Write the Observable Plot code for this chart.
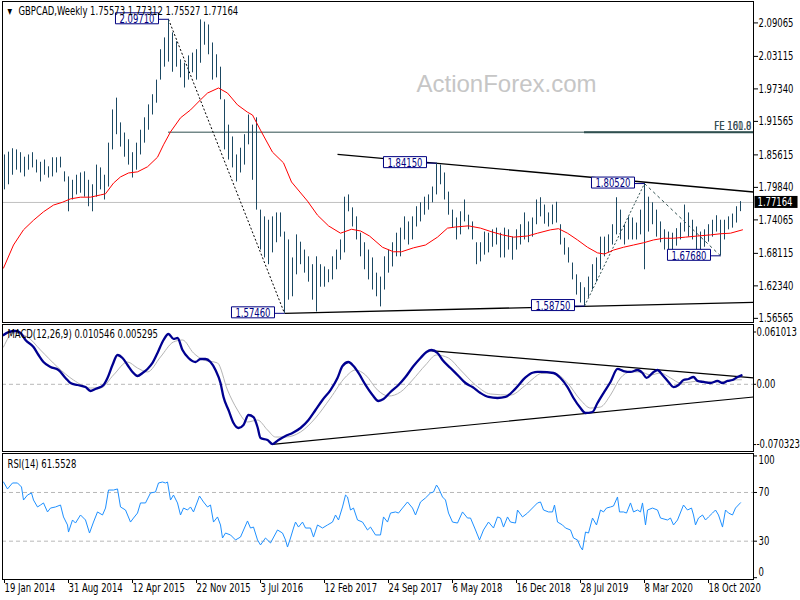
<!DOCTYPE html>
<html><head><meta charset="utf-8">
<script src="https://cdn.jsdelivr.net/npm/d3@7"></script>
<script src="https://cdn.jsdelivr.net/npm/@observablehq/plot@0.6"></script>
<style>
body{margin:0;background:#fff;}
#wrap{position:relative;width:800px;height:600px;background:#fff;overflow:hidden;}
#wrap svg{position:absolute;left:0;}
</style></head><body><div id="wrap"></div>
<script>
const FONT = '"Liberation Sans Narrow","DejaVu Sans Condensed","Liberation Sans",Arial,sans-serif';

// ---------- price panel data (bars every 2 weeks, week index from 19 Jan 2014) ----------
const barHigh = [
1.856,1.861,1.867,1.865,1.860,1.852,1.856,1.860,1.847,1.843,
1.847,1.835,1.851,1.851,1.852,1.826,1.817,1.811,1.820,1.824,
1.826,1.811,1.803,1.838,1.833,1.820,1.877,1.936,1.957,1.913,
1.895,1.883,1.860,1.877,1.900,1.922,1.945,1.963,1.989,2.043,
2.064,2.0971,2.073,2.057,2.025,2.019,2.032,2.037,2.043,2.096,
2.092,2.087,2.055,2.034,2.012,1.954,1.909,1.888,1.856,1.868,
1.892,1.927,1.909,1.922,1.758,1.746,1.740,1.746,1.753,1.753,
1.719,1.705,1.673,1.714,1.701,1.687,1.675,1.661,1.675,1.661,
1.657,1.652,1.675,1.687,1.705,1.781,1.785,1.762,1.746,1.717,
1.700,1.687,1.673,1.646,1.639,1.675,1.687,1.700,1.717,1.726,
1.746,1.737,1.746,1.764,1.771,1.781,1.785,1.799,1.8415,1.838,
1.824,1.790,1.758,1.744,1.755,1.776,1.749,1.737,1.700,1.700,
1.719,1.717,1.723,1.726,1.717,1.726,1.723,1.710,1.723,1.732,
1.753,1.737,1.744,1.776,1.780,1.767,1.753,1.767,1.772,1.732,
1.708,1.691,1.664,1.643,1.629,1.620,1.639,1.661,1.673,1.710,
1.710,1.714,1.732,1.780,1.758,1.732,1.746,1.744,1.735,1.758,
1.8052,1.781,1.771,1.758,1.737,1.723,1.719,1.717,1.725,1.735,
1.767,1.753,1.740,1.728,1.719,1.723,1.732,1.740,1.748,1.740,
1.740,1.746,1.751,1.764,1.77312];
const barLow = [
1.794,1.803,1.820,1.829,1.824,1.817,1.829,1.833,1.824,1.808,
1.820,1.815,1.817,1.824,1.833,1.808,1.755,1.776,1.785,1.788,
1.781,1.764,1.755,1.781,1.794,1.776,1.799,1.865,1.892,1.870,
1.852,1.838,1.815,1.829,1.856,1.877,1.900,1.927,1.948,1.989,
2.012,2.021,2.003,2.012,1.993,1.975,1.989,2.002,1.989,2.019,
2.051,2.034,1.989,1.993,1.954,1.865,1.847,1.833,1.808,1.824,
1.838,1.874,1.811,1.758,1.687,1.673,1.661,1.682,1.700,1.710,
1.5746,1.598,1.604,1.643,1.661,1.646,1.630,1.598,1.577,1.621,
1.621,1.629,1.634,1.652,1.669,1.682,1.755,1.728,1.705,1.675,
1.652,1.634,1.616,1.604,1.586,1.616,1.646,1.657,1.675,1.675,
1.705,1.696,1.705,1.728,1.737,1.749,1.758,1.771,1.785,1.803,
1.776,1.749,1.726,1.705,1.714,1.737,1.723,1.705,1.661,1.666,
1.678,1.682,1.692,1.696,1.673,1.673,1.687,1.669,1.687,1.696,
1.705,1.700,1.710,1.732,1.746,1.733,1.728,1.732,1.735,1.696,
1.678,1.664,1.634,1.607,1.593,1.5875,1.602,1.616,1.630,1.652,
1.675,1.682,1.696,1.714,1.705,1.696,1.705,1.705,1.705,1.714,
1.652,1.719,1.732,1.710,1.700,1.687,1.687,1.684,1.694,1.705,
1.719,1.710,1.705,1.687,1.684,1.692,1.701,1.710,1.719,1.6768,
1.705,1.723,1.726,1.735,1.75527];

const maWeek = [-0.5,4.5,9.5,14.5,19.5,24.5,29,33,38,43,48,50.5,54.5,58,62,66.5,71.5,76.5,79.5,83,88,93,98,101.5,107,111.5,116.5,121.5,124,128,134,139.5,143.5,151.5,156.5,162,168,173.5,178,182.5,189,194.5,198.5,204.5,210.5,216.5,221.5,225.5,232,238,244,249,254.5,261.5,266.5,273,277,281.5,286.5,291.5,296.5,300,304.5,309.5,314.5,319.5,324.5,329.5,334.5,340.5,346.5,353,358,363,369];
const maValue = [1.655,1.696,1.723,1.740,1.755,1.767,1.772,1.778,1.781,1.781,1.785,1.787,1.806,1.817,1.824,1.826,1.835,1.852,1.874,1.897,1.922,1.936,1.954,1.966,1.975,1.966,1.945,1.932,1.927,1.900,1.861,1.842,1.808,1.774,1.749,1.730,1.717,1.724,1.721,1.712,1.692,1.684,1.684,1.691,1.696,1.710,1.726,1.728,1.730,1.726,1.719,1.714,1.710,1.712,1.717,1.723,1.725,1.717,1.705,1.692,1.682,1.680,1.687,1.692,1.696,1.700,1.705,1.708,1.708,1.710,1.712,1.714,1.716,1.717,1.723];

const priceTicks = [2.09065,2.03115,1.97340,1.91565,1.85615,1.79840,1.74065,1.68115,1.62340,1.56565];
const swingWeek = [82,216,140,320,290,358];
const swingPrice = [2.0971,1.8415,1.5746,1.8052,1.5875,1.6768];
const trendW1 = [166.5,140], trendP1 = [1.8572,1.5746], trendW2 = [374.5,374.5], trendP2 = [1.7902,1.5942];
const fePrice = 1.8965, feStartWeek = [82,290], feText = ["FE 100.0","FE 161.8"];
const headerText = "GBPCAD,Weekly 1.75573 1.77312 1.75527 1.77164";
const lastClose = 1.77164;
const watermark = "ActionForex.com";

// ---------- MACD ----------
const macdWeek = [-0.5,2,5.5,8,10.5,14.5,17,19.5,23,27,30.5,33,36.5,40.5,43,45.5,48,49.5,51.5,54,56.5,59,61.5,64,66.5,69,71.5,74,76.5,79.5,82,84.5,86.5,89,92,95.5,98,100.5,103,105.5,108,109.5,112,114.5,117,119.5,122,124.5,126.5,128,131.5,134,137,140.5,144,148,152,155.5,159,163,166.5,169,172,174.5,177,180.5,184,187,189.5,193,197,200.5,204.5,208,211,213.5,216.5,219,223,227,230.5,234,238,242,246.5,250.5,255.5,260.5,264,266.5,268,274.5,278,281.5,284.5,288,290.5,294,296.5,299.5,303,306.5,309.5,313,316.5,319,321,324,326.5,329,332,334.5,337,339.5,342,344.5,346.5,349.5,353,356.5,359,361.5,364,366.5,368.5];
const macdMain = [0.0575,0.061,0.0622,0.0599,0.0517,0.0435,0.0342,0.026,0.0202,0.0167,0.0074,0.0015,-0.0008,-0.0032,-0.0078,-0.0055,-0.0032,-0.0008,0.0074,0.0225,0.0342,0.0307,0.0225,0.0144,0.0097,0.0132,0.0179,0.0249,0.0365,0.0517,0.0587,0.0529,0.054,0.04,0.0307,0.026,0.0295,0.0295,0.026,0.0167,0.0015,-0.0148,-0.03,-0.0452,-0.051,-0.0475,-0.0358,-0.0382,-0.0498,-0.0627,-0.065,-0.0697,-0.065,-0.0603,-0.0568,-0.051,-0.0417,-0.03,-0.0183,-0.0067,0.0074,0.0213,0.026,0.0213,0.0132,-0.0008,-0.0125,-0.0195,-0.0172,-0.009,-0.0008,0.0085,0.0213,0.0307,0.0377,0.04,0.0365,0.0284,0.019,0.0097,0.0015,-0.0032,-0.0102,-0.0148,-0.016,-0.0148,-0.005,0.008,0.0135,0.0144,0.0144,0.0132,0.0074,-0.0032,-0.016,-0.0277,-0.0335,-0.0323,-0.0218,-0.0102,0.0027,0.0179,0.0155,0.0144,0.0167,0.0132,0.0074,0.0132,0.0167,0.0109,0.0027,-0.0032,-0.0008,0.005,0.0062,0.0085,0.0039,0.0027,0.0015,0.0039,0.0015,0.0039,0.005,0.0085,0.0105];
const sigWeek = [-0.5,4.5,11.5,18,26.5,34.5,43,48,54.5,61.5,66.5,71.5,78,84.5,89,94.5,99.5,106.5,111.5,116.5,121.5,126.5,131.5,135.5,140.5,148,155.5,163,170.5,175.5,180.5,186.5,192,198,204,210.5,216,222,228,235.5,243,253,260,265,268,274.5,281.5,288,293,298,303,308,313,318,323,328,333,338,343,348,353,358,363,368.5];
const sigValue = [0.0435,0.0599,0.0552,0.04,0.0202,0.005,-0.0043,-0.0043,0.0109,0.026,0.019,0.0144,0.0319,0.0494,0.0517,0.0365,0.0284,0.0249,-0.0067,-0.03,-0.044,-0.0417,-0.0533,-0.0615,-0.0615,-0.0557,-0.0393,-0.016,0.0085,0.0167,0.0109,-0.0067,-0.0137,-0.009,0.005,0.0225,0.0342,0.0307,0.0167,-0.0008,-0.0113,-0.0125,-0.002,0.008,0.0125,0.0132,0.0015,-0.0183,-0.0277,-0.0265,-0.0125,0.0074,0.0144,0.0144,0.0109,0.0132,0.0074,0.0015,0.0027,0.0039,0.0027,0.0027,0.005,0.0053];
const macdTrendW1 = [213,134], macdTrendV1 = [0.0394,-0.0702], macdTrendW2 = [374.5,374.5], macdTrendV2 = [0.0074,-0.0148];
const macdTicks = [0.061013, 0, -0.070323];
const macdTickLabels = ["0.061013", "0.00", "-0.070323"];
const macdTitle = "MACD(12,26,9) 0.010546 0.005295";

// ---------- RSI ----------
const rsiWeek = [-0.5,1.5,4,6.5,8.5,9.5,11.5,13.5,14.5,16.5,18,19.5,21.5,23,25.5,28,29.5,31.5,32,34,35.5,38,40.5,42.5,44.5,46.5,49,50.5,52,54.5,56.5,58,60.5,63,64.5,66.5,68,70.5,73,75.5,77,79,80.5,81.5,83,84.5,86.5,88,89.5,91.5,93,94.5,97.5,99.5,101.5,103,104.5,106.5,108,109,110.5,113,115.5,118,121.5,123,124.5,126.5,128,130.5,133,136.5,139,140.5,141.5,143,144.5,145.5,147,149,150.5,153,154.5,156.5,159,161.5,164,165.5,167,169,170.5,171.5,173,174.5,176.5,179,181.5,183,185.5,188,189.5,191.5,193,195.5,197,199,201.5,204,205.5,208,210.5,213,214.5,216,217,219,220.5,222,224,226.5,229,231.5,233,235.5,237.5,239.5,242,244.5,246.5,248,249.5,251.5,253,255.5,256.5,259,261.5,263,264.5,266.5,268,269.5,272,274,275,276.5,279,280.5,283,284.5,286.5,288,289,290.5,292,294,296,298,299.5,301,303,304.5,306.5,307.5,309.5,311,313,314.5,316.5,318,319,320.5,321.5,324,326.5,328,331.5,333,334.5,336.5,339.5,341.5,343.5,344.5,345.5,347,349,350.5,352,354,355.5,357,359,360.5,362,364,365.5,368];
const rsiValue = [78.6,72.9,77.8,77.8,74.5,63.8,67.9,69.6,63.8,58.1,59.7,61.4,54.0,57.2,58.1,59.7,49.9,43.3,37.5,47.4,44.9,51.5,47.4,36.7,45.7,54.0,51.5,57.2,72.0,72.0,72.9,58.1,55.6,45.7,49.0,53.1,61.4,61.4,69.6,70.4,77.8,78.6,77.8,78.6,63.8,67.9,61.4,51.5,57.2,55.6,58.1,54.0,67.1,62.2,58.1,59.7,45.7,49.9,43.3,32.6,36.7,35.1,31.0,33.4,46.6,40.8,41.6,31.0,26.9,32.6,28.5,39.2,36.7,31.0,25.2,32.6,40.8,45.7,41.6,45.7,40.8,40.8,33.4,43.3,40.8,43.3,45.7,51.5,47.4,58.1,67.9,66.3,55.6,57.2,47.4,45.7,39.2,41.6,35.1,35.1,49.9,45.7,53.1,54.0,53.1,57.2,62.2,57.2,51.5,62.2,65.5,69.6,70.4,76.1,73.7,66.3,63.8,53.1,45.7,44.9,54.0,49.0,49.0,39.2,31.0,39.2,45.7,40.8,49.9,49.0,41.6,49.9,45.7,44.9,55.6,49.9,53.1,55.6,58.1,61.4,62.2,55.6,54.0,54.0,59.7,45.7,43.3,40.8,39.2,32.6,31.0,25.2,22.8,37.5,36.7,49.0,43.3,55.6,54.0,57.2,58.1,58.9,66.3,54.0,54.0,53.1,61.4,54.0,55.6,54.0,61.4,43.3,55.6,57.2,55.6,49.0,47.4,49.0,43.3,47.4,59.7,55.6,57.2,51.5,43.3,49.0,51.5,47.4,49.9,53.1,55.6,51.5,41.6,55.6,53.1,51.5,57.2,61.55];
const rsiTicksMid = [70, 30];
const rsiTitle = "RSI(14) 61.5528";

// ---------- time axis ----------
const xTickWeeks = [0,32,64,96,128,160,192,224,256,288,320,352];
const xTickLabels = ["19 Jan 2014","31 Aug 2014","12 Apr 2015","22 Nov 2015","3 Jul 2016","12 Feb 2017","24 Sep 2017","6 May 2018","16 Dec 2018","28 Jul 2019","8 Mar 2020","18 Oct 2020"];

// ---------- build tables ----------
const zip = (a, b, f) => a.slice(0, Math.min(a.length, b.length)).map((v, i) => f(v, b[i], i));
const bars = zip(barHigh, barLow, (h, l, k) => ({w: 2 * k, high: h, low: l}));
const ma = zip(maWeek, maValue, (w, v) => ({w, v}));
const swings = zip(swingWeek, swingPrice, (w, p) => ({w, p}));
const trends = trendW1.map((w, i) => ({w1: w, p1: trendP1[i], w2: trendW2[i], p2: trendP2[i]}));
const feLines = feStartWeek.map((w, i) => ({w1: w, w2: 374.5, p: fePrice, sw: i ? 2 : 1}));
const macd = zip(macdWeek, macdMain, (w, v) => ({w, v}));
const sig = zip(sigWeek, sigValue, (w, v) => ({w, v}));
const macdTrends = macdTrendW1.map((w, i) => ({w1: w, v1: macdTrendV1[i], w2: macdTrendW2[i], v2: macdTrendV2[i]}));
const rsi = zip(rsiWeek, rsiValue, (w, v) => ({w, v}));
const xTicks = zip(xTickWeeks, xTickLabels, (w, label) => ({w, label}));

const xDomain = [-1, 374.5];
const style = {fontFamily: FONT, fontSize: "11.5px", background: "transparent", overflow: "visible", color: "black"};
const common = {width: 800, marginLeft: 2, marginRight: 47, style};

const mainPlot = Plot.plot({
  ...common, height: 323, marginTop: 1, marginBottom: 1,
  x: {domain: xDomain, axis: null},
  y: {domain: [1.5583, 2.1287], label: null},
  marks: [
    Plot.text([watermark], {frameAnchor: "top-left", dx: 414, dy: 83, fontSize: 24, fill: "#c6c6c6", textAnchor: "start", lineAnchor: "middle", fontFamily: "Liberation Sans, Arial, sans-serif"}),
    Plot.ruleY([lastClose], {stroke: "#c0c0c0"}),
    Plot.ruleY(feLines, {y: "p", x1: "w1", x2: "w2", stroke: "#2f4f4f", strokeWidth: "sw"}),
    Plot.text(feText, {y: () => fePrice, text: d => d, frameAnchor: "right", dx: -2, dy: -6, textAnchor: "end", lineAnchor: "middle", fill: "#3a4f55"}),
    Plot.link(trends, {x1: "w1", y1: "p1", x2: "w2", y2: "p2", stroke: "black", strokeWidth: 1.3}),
    Plot.link([{w1: swingWeek[0], p1: swingPrice[0], w2: swingWeek[2], p2: swingPrice[2]}], {x1: "w1", y1: "p1", x2: "w2", y2: "p2", stroke: "black", strokeDasharray: "2,2"}),
    Plot.link([{w1: swingWeek[4], p1: swingPrice[4], w2: swingWeek[3], p2: swingPrice[3]}], {x1: "w1", y1: "p1", x2: "w2", y2: "p2", stroke: "#2f4f4f", strokeDasharray: "2,2"}),
    Plot.link([{w1: swingWeek[3], p1: swingPrice[3], w2: swingWeek[5], p2: swingPrice[5]}], {x1: "w1", y1: "p1", x2: "w2", y2: "p2", stroke: "#2f4f4f", strokeDasharray: "3,3"}),
    Plot.ruleX(bars, {x: "w", y1: "low", y2: "high", stroke: "#1b4862", strokeWidth: 1}),
    Plot.line(ma, {x: "w", y: "v", stroke: "#ff0000", strokeWidth: 1}),
    Plot.text(swings, {x: "w", y: "p", text: d => d.p.toFixed(5), textAnchor: "end", lineAnchor: "middle", dx: -14, fill: "#000080"}),
    Plot.axisY({anchor: "right", ticks: priceTicks, tickSize: 4, tickPadding: 1, tickFormat: d => d.toFixed(5), label: null}),
    Plot.frame({stroke: "black"}),
    Plot.text(["▼"], {frameAnchor: "top-left", dx: 5, dy: 9.5, fontSize: 8, textAnchor: "start", lineAnchor: "middle"}),
    Plot.text([headerText], {frameAnchor: "top-left", dx: 16, dy: 9.5, textAnchor: "start", lineAnchor: "middle"}),
    Plot.text([lastClose], {y: d => d, text: d => d.toFixed(5), frameAnchor: "right", dx: 4, textAnchor: "start", lineAnchor: "middle", fill: "white"})
  ]
});

const macdPlot = Plot.plot({
  ...common, height: 129, marginTop: 1, marginBottom: 1,
  x: {domain: xDomain, axis: null},
  y: {domain: [-0.07841, 0.06978], label: null},
  marks: [
    Plot.ruleY([0], {stroke: "#b8b8b8", strokeDasharray: "4,3"}),
    Plot.link(macdTrends, {x1: "w1", y1: "v1", x2: "w2", y2: "v2", stroke: "black", strokeWidth: 1.2}),
    Plot.line(sig, {x: "w", y: "v", stroke: "#b4b4b4", strokeWidth: 1, curve: "monotone-x"}),
    Plot.line(macd, {x: "w", y: "v", stroke: "#000090", strokeWidth: 2.3, curve: "monotone-x"}),
    Plot.axisY({anchor: "right", ticks: macdTicks, tickSize: 2, tickPadding: 1, tickFormat: d => macdTickLabels[macdTicks.indexOf(d)], label: null}),
    Plot.frame({stroke: "black"}),
    Plot.text([macdTitle], {frameAnchor: "top-left", dx: 5, dy: 9.5, textAnchor: "start", lineAnchor: "middle"})
  ]
});

const rsiPlot = Plot.plot({
  ...common, height: 148, marginTop: 1, marginBottom: 21,
  x: {domain: xDomain, label: null},
  y: {domain: [-1.48, 102.01], label: null},
  marks: [
    Plot.ruleY(rsiTicksMid, {stroke: "#b8b8b8", strokeDasharray: "4,3"}),
    Plot.line(rsi, {x: "w", y: "v", stroke: "#1e90ff", strokeWidth: 1}),
    Plot.axisY({anchor: "right", ticks: [100, 70, 30, 0], tickSize: 3, tickPadding: 2, tickFormat: () => "", label: null}),
    Plot.text(rsiTicksMid, {y: d => d, text: d => String(d), frameAnchor: "right", dx: 5, textAnchor: "start", lineAnchor: "middle"}),
    Plot.text([100], {y: d => d, text: d => String(d), frameAnchor: "right", dx: 5, dy: 4.5, textAnchor: "start", lineAnchor: "middle"}),
    Plot.text([0], {y: d => d, text: d => String(d), frameAnchor: "right", dx: 5, dy: -5, textAnchor: "start", lineAnchor: "middle"}),
    Plot.axisX({ticks: xTickWeeks, tickSize: 4, tickFormat: () => "", label: null}),
    Plot.text(xTicks, {x: "w", text: "label", frameAnchor: "bottom", dy: 9, textAnchor: "start", lineAnchor: "middle"}),
    Plot.frame({stroke: "black"}),
    Plot.text([rsiTitle], {frameAnchor: "top-left", dx: 5, dy: 10.5, textAnchor: "start", lineAnchor: "middle"})
  ]
});

const wrap = document.getElementById("wrap");
const plots = [mainPlot, macdPlot, rsiPlot];
[[mainPlot, 0], [macdPlot, 323], [rsiPlot, 452]].forEach(([svg, top]) => {
  svg.style.top = top + "px";
  wrap.appendChild(svg);
});

// ---------- narrow the small text horizontally so the header spans its reference width ----------
const num = s => (s != null && /^\s*-?[\d.]+\s*$/.test(s)) ? +s : 0;
const findText = (svg, s) => [...svg.querySelectorAll("text")].filter(t => t.textContent === s);
let SX = 1;
const hdr = findText(mainPlot, headerText)[0];
if (hdr) {
  const len = hdr.getComputedTextLength();
  if (len > 0) SX = Math.max(0.7, Math.min(1.1, 220 / len));
}
plots.forEach(svg => svg.querySelectorAll("text").forEach(t => {
  if (t.textContent === watermark) return;
  const x = num(t.getAttribute("x"));
  const tr = t.getAttribute("transform") || "";
  t.setAttribute("transform", `${tr} translate(${x},0) scale(${SX},1) translate(${-x},0)`.trim());
}));

// ---------- boxes behind labels ----------
const NS = "http://www.w3.org/2000/svg";
function boxText(t, o) {
  const bb = t.getBBox();
  const tr = t.getAttribute("transform");
  const ax = num(t.getAttribute("x"));
  const ay = num(t.getAttribute("y"));
  const r = document.createElementNS(NS, "rect");
  const x0 = bb.x - o.padL / SX, x1 = bb.x + bb.width + o.padR / SX;
  const y0 = Math.round(bb.y + o.padT) + 0.5, y1 = Math.round(bb.y + bb.height - o.padB) - 0.5;
  r.setAttribute("x", x0); r.setAttribute("y", y0);
  r.setAttribute("width", x1 - x0); r.setAttribute("height", y1 - y0);
  r.setAttribute("fill", o.fill); r.setAttribute("stroke", o.stroke || "none");
  r.setAttribute("vector-effect", "non-scaling-stroke");
  if (tr) r.setAttribute("transform", tr);
  t.parentNode.insertBefore(r, t);
  if (o.link) {
    const l = document.createElementNS(NS, "line");
    l.setAttribute("x1", x1); l.setAttribute("x2", ax + o.link / SX);
    l.setAttribute("y1", ay); l.setAttribute("y2", ay);
    l.setAttribute("stroke", o.stroke);
    l.setAttribute("vector-effect", "non-scaling-stroke");
    if (tr) l.setAttribute("transform", tr);
    t.parentNode.insertBefore(l, t);
  }
}
swingPrice.forEach(p => findText(mainPlot, p.toFixed(5)).forEach(t =>
  boxText(t, {fill: "white", stroke: "#000080", padL: 4, padR: 4, padT: 0.5, padB: 0.5, link: 14})));
findText(mainPlot, lastClose.toFixed(5)).forEach(t =>
  boxText(t, {fill: "black", padL: 3, padR: 5, padT: 0, padB: 0}));
</script>
</body></html>
